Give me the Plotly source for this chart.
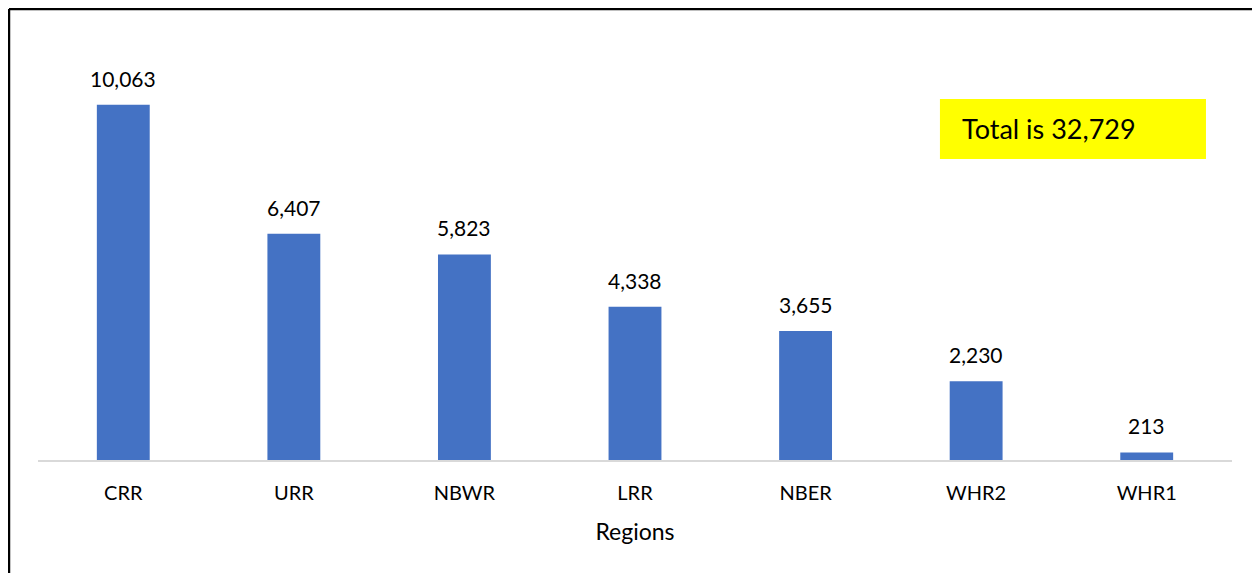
import plotly.graph_objects as go

# Regions and counts
regions = ['CRR', 'URR', 'NBWR', 'LRR', 'NBER', 'WHR2', 'WHR1']
counts = [10063, 6407, 5823, 4338, 3655, 2230, 213]
total = sum(counts)

FONT = 'Lato, sans-serif'

fig = go.Figure()

fig.add_trace(go.Bar(
    x=regions, y=counts,
    marker=dict(color='#4472C4', line=dict(width=0)),
    showlegend=False, hoverinfo='x+y'
))

# value labels above bars
for r, c in zip(regions, counts):
    fig.add_annotation(
        x=r, y=c, text=f'{c:,}', showarrow=False,
        yanchor='bottom', yshift=12,
        font=dict(family=FONT, size=21, color='black')
    )

# yellow total box
fig.add_shape(type='rect', xref='paper', yref='paper',
              x0=0.7554, x1=0.9782, y0=0.7414, y1=0.8892,
              fillcolor='#FFFF00', line=dict(width=0), layer='below')
fig.add_annotation(
    xref='paper', yref='paper', x=0.7722, y=0.8153,
    xanchor='left', yanchor='middle',
    text=f'Total is {total:,}', showarrow=False,
    font=dict(family=FONT, size=27, color='black')
)

# outer frame (left / top black, right grey)
fig.add_shape(type='line', xref='paper', yref='paper',
              x0=-0.0243, x1=-0.0243, y0=1.111, y1=-0.4,
              line=dict(color='black', width=2.5))
fig.add_shape(type='line', xref='paper', yref='paper',
              x0=-0.0243, x1=1.03, y0=1.111, y1=1.111,
              line=dict(color='black', width=2.5))
fig.add_shape(type='line', xref='paper', yref='paper',
              x0=1.0205, x1=1.0205, y0=1.111, y1=-0.4,
              line=dict(color='#808080', width=1.5))

fig.update_layout(
    width=1260, height=573,
    margin=dict(l=30, r=36, t=46, b=121),
    paper_bgcolor='white', plot_bgcolor='white',
    bargap=0.69,
    font=dict(family=FONT, color='black'),
    xaxis=dict(
        showline=True, linecolor='#D9D9D9', linewidth=1.5,
        tickfont=dict(family=FONT, size=20, color='black'),
        ticks='', ticklabelstandoff=14,
        title=dict(text='Regions', font=dict(family=FONT, size=23, color='black'), standoff=21),
    ),
    yaxis=dict(range=[0, 11500], visible=False, showgrid=False, zeroline=False),
)

fig.write_html('out.html')
